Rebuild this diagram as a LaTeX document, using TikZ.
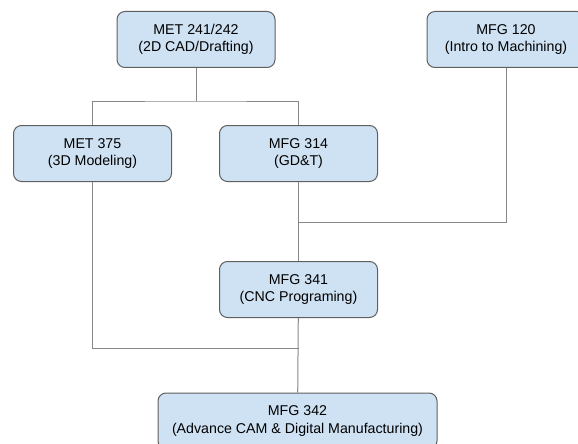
\documentclass[tikz,border=0pt]{standalone}
\usepackage{fontspec}
\setmainfont{Liberation Sans}
\usetikzlibrary{positioning}

\begin{document}
\begin{tikzpicture}[x=1pt,y=-1pt,line width=1pt]
  \definecolor{boxfill}{RGB}{207,226,243}
  \definecolor{boxline}{RGB}{95,95,95}
  \definecolor{linkgray}{RGB}{135,135,135}
  \tikzset{course/.style={draw=boxline,fill=boxfill,rounded corners=8pt,align=center,
      minimum width=158pt,minimum height=56pt,inner sep=2pt,
      font=\fontsize{14.2}{17.5}\selectfont},
    link/.style={draw=linkgray,line width=1pt}}
  \useasboundingbox (0,0) rectangle (578,444);
  \node[course] (met241) at (196,39.5) {MET 241/242\\(2D CAD/Drafting)};
  \node[course] (mfg120) at (506,39.5) {MFG 120\\(Intro to Machining)};
  \node[course] (met375) at (92.5,153.5) {MET 375\\(3D Modeling)};
  \node[course] (mfg314) at (298.5,153.5) {MFG 314\\(GD\&T)};
  \node[course] (mfg341) at (298.5,289.5) {MFG 341\\(CNC Programing)};
  \node[course,minimum width=279pt] (mfg342) at (297.5,421) {MFG 342\\(Advance CAM \& Digital Manufacturing)};
  \coordinate (topjoin) at (196,101);
  \coordinate (midjoin) at (298.5,222);
  \coordinate (lowjoin) at (298.5,348);
  \draw[link] (met241) -- (topjoin);
  \draw[link] (met375.north) |- (topjoin) -| (mfg314.north);
  \draw[link] (mfg120.south) |- (midjoin);
  \draw[link] (mfg314) -- (mfg341);
  \draw[link] (met375.south) |- (lowjoin);
  \draw[link] (mfg341) -- (mfg342);
\end{tikzpicture}
\end{document}
